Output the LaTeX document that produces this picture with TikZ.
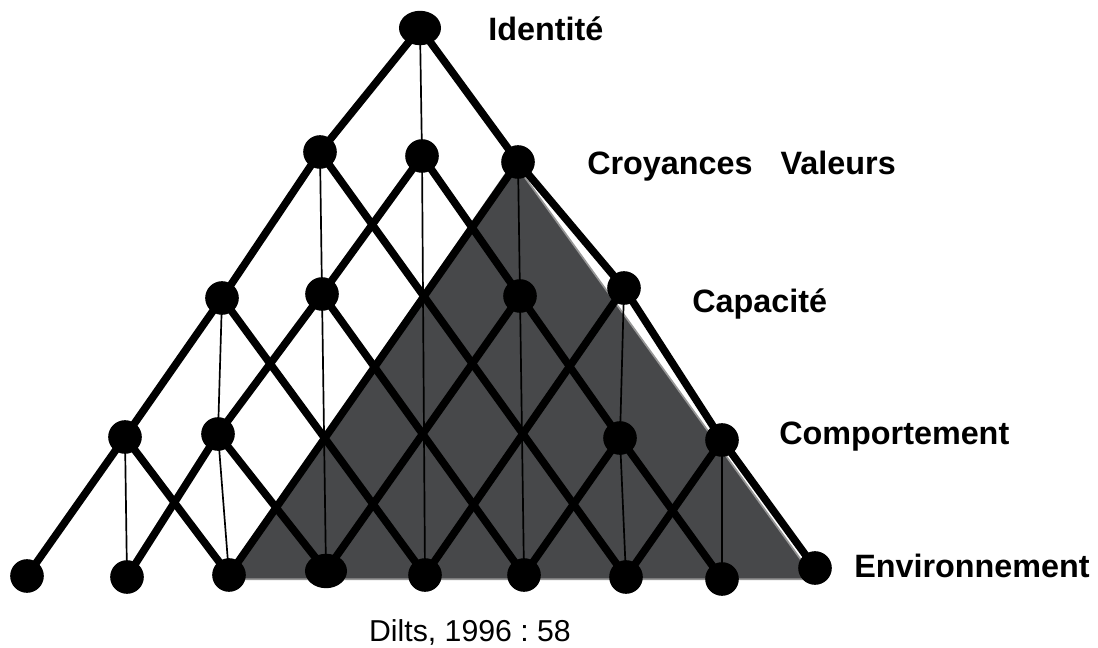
\documentclass[tikz,border=0pt]{standalone}
\usepackage{fontspec}
\setmainfont{Liberation Sans}
\usetikzlibrary{shapes.geometric,backgrounds}
\definecolor{pyramid}{RGB}{71,72,74}
\definecolor{pyramidedge}{RGB}{150,150,150}
\tikzstyle{dot} = [circle, fill=black, inner sep=0pt, minimum size=0.84cm]
\tikzstyle{blob} = [ellipse, fill=black, inner sep=0pt, minimum width=1.05cm, minimum height=0.86cm]
\tikzstyle{level} = [anchor=base west, inner sep=0pt, font=\fontsize{23}{28}\selectfont\bfseries]
\tikzstyle{link} = [line width=5.4pt]
\tikzstyle{tie} = [line width=1.2pt]

\begin{document}
\frenchspacing
\begin{tikzpicture}[x=0.025cm, y=-0.025cm]
    \useasboundingbox (0,0) rectangle (1098,648);

    \node [blob] (ident) at (420,28) {};

    \node [dot] (croy_l) at (320,152) {};
    \node [dot] (croy_m) at (422,156) {};
    \node [dot] (croy_r) at (518,162) {};

    \node [dot] (cap_1) at (222,298) {};
    \node [dot] (cap_2) at (322,294) {};
    \node [dot] (cap_3) at (520,296) {};
    \node [dot] (cap_4) at (624,288) {};

    \node [dot] (comp_1) at (125,437) {};
    \node [dot] (comp_2) at (218,434) {};
    \node [dot] (comp_3) at (620,438) {};
    \node [dot] (comp_4) at (722,440) {};

    \node [dot] (env_1) at (27,576) {};
    \node [dot] (env_2) at (127,577) {};
    \node [dot] (env_3) at (229,575) {};
    \node [blob] (env_4) at (326,571) {};
    \node [dot] (env_5) at (425,575) {};
    \node [dot] (env_6) at (524,575) {};
    \node [dot] (env_7) at (626,577) {};
    \node [dot] (env_8) at (722,579) {};
    \node [dot] (env_9) at (815,568) {};

    \node [level] (lbl_ident) at (488,41) {Identité};
    \node [level] (lbl_croy) at (587,175) {Croyances\hspace{0.7cm}Valeurs};
    \node [level] (lbl_cap) at (692,313) {Capacité};
    \node [level] (lbl_comp) at (779,444) {Comportement};
    \node [level] (lbl_env) at (854,577) {Environnement};
    \node [anchor=base, inner sep=0pt, font=\fontsize{21.5}{26}\selectfont] (source) at (470,641) {Dilts, 1996 : 58};

    \begin{scope}[on background layer]
        \filldraw [fill=pyramid, draw=pyramidedge, line width=1.2pt]
            ([xshift=-3pt]croy_r.center) -- ([xshift=-3pt, yshift=-3pt]env_3.center)
            -- ([yshift=-8pt]env_9.center) -- cycle;

        \draw [tie] (ident.center) -- (croy_m.center) -- (env_5.center);
        \draw [tie] (croy_l.center) -- (cap_2.center) -- (env_4.center);
        \draw [tie] (cap_1.center) -- (comp_2.center) -- (env_3.center);
        \draw [tie] (comp_1.center) -- (env_2.center);
        \draw [tie] (croy_r.center) -- (cap_3.center) -- (env_6.center);
        \draw [tie] (cap_4.center) -- (comp_3.center) -- (env_7.center);
        \draw [tie] (comp_4.center) -- (env_8.center);

        \draw [link] (ident.center) -- (croy_l.center) -- (cap_1.center) -- (comp_1.center) -- (env_1.center);
        \draw [link] (croy_m.center) -- (cap_2.center) -- (comp_2.center) -- (env_2.center);
        \draw [link] (croy_r.center) -- (env_3.center);
        \draw [link] (cap_3.center) -- (env_4.center);
        \draw [link] (cap_4.center) -- (env_5.center);
        \draw [link] (comp_3.center) -- (env_6.center);
        \draw [link] (comp_4.center) -- (env_7.center);

        \draw [link] (ident.center) -- (croy_r.center) -- (cap_4.center) -- (comp_4.center) -- (env_9.center);
        \draw [link] (croy_m.center) -- (cap_3.center) -- (comp_3.center) -- (env_8.center);
        \draw [link] (croy_l.center) -- (env_7.center);
        \draw [link] (cap_2.center) -- (env_6.center);
        \draw [link] (cap_1.center) -- (env_5.center);
        \draw [link] (comp_2.center) -- (env_4.center);
        \draw [link] (comp_1.center) -- (env_3.center);
    \end{scope}
\end{tikzpicture}
\end{document}
